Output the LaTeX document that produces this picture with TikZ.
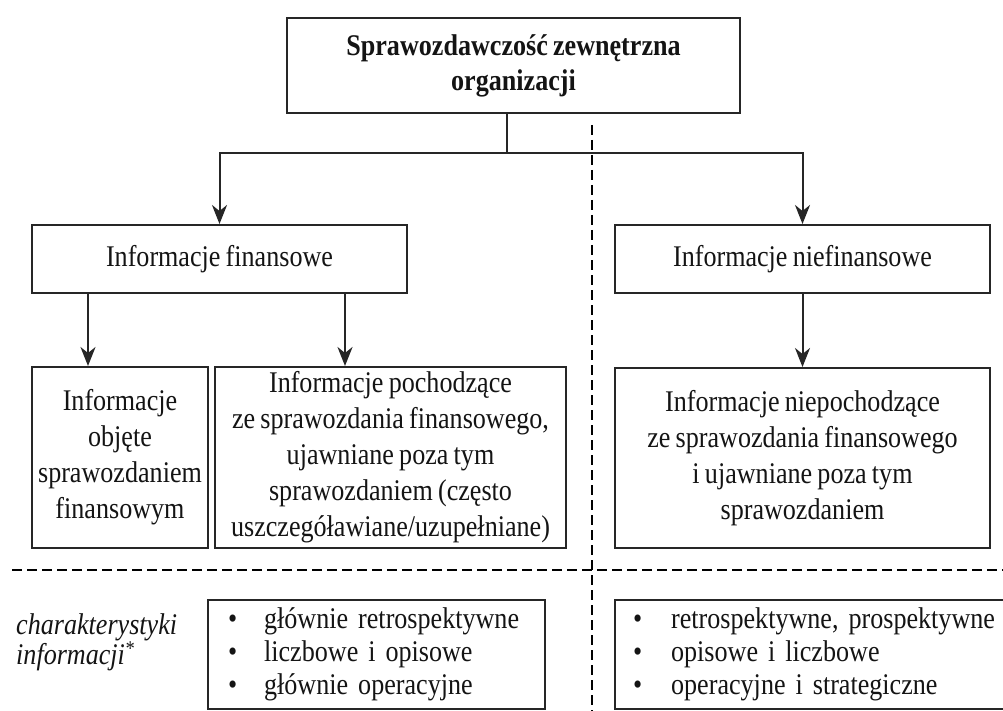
\documentclass[tikz,border=0pt]{standalone}
\usepackage{fontspec}
\setmainfont[FakeStretch=0.87,WordSpace=0.8]{Liberation Serif}
\usetikzlibrary{arrows.meta}
\definecolor{ln}{HTML}{262626}
\definecolor{tx}{HTML}{141414}
\tikzset{
  box/.style={draw=ln, line width=2pt, inner sep=0pt, align=center, text=tx,
    font=\fontsize{30}{36}\selectfont},
  listbox/.style={draw=ln, line width=2pt, inner ysep=0pt, align=left, text=tx,
    font=\fontsize{30}{33}\selectfont},
  arr/.style={draw=ln, line width=2pt, -{Stealth[length=19pt,width=15pt,inset=6pt]}},
  conn/.style={draw=ln, line width=2pt},
  divider/.style={draw=black, line width=2.6pt, dash pattern=on 10pt off 5pt},
}
\begin{document}
\begin{tikzpicture}[x=1pt,y=-1pt]
\useasboundingbox (0,0) rectangle (1003,711);
\clip (0,0) rectangle (1003,711);
\fill[white] (0,0) rectangle (1003,711);

% top
\node[box, minimum width=453pt, minimum height=95pt, line width=2.4pt,
  font=\fontsize{30}{35}\selectfont\bfseries] (top) at (513.5,65.5)
  {Sprawozdawczość zewnętrzna\\organizacji};

% second level
\node[box, minimum width=375pt, minimum height=68pt] (fin) at (219.5,259)
  {Informacje finansowe};
\node[box, minimum width=375pt, minimum height=68pt] (nfin) at (802.5,259)
  {Informacje niefinansowe};

% third level
\node[box, minimum width=176pt, minimum height=181pt] (obj) at (120,457.5)
  {Informacje\\objęte\\sprawozdaniem\\finansowym};
\node[box, minimum width=351pt, minimum height=181pt] (poch) at (390.5,457.5)
  {Informacje pochodzące\\ze sprawozdania finansowego,\\ujawniane poza tym\\sprawozdaniem (często\\uszczegóławiane/uzupełniane)};
\node[box, minimum width=375pt, minimum height=180pt] (npoch) at (802.5,458)
  {Informacje niepochodzące\\ze sprawozdania finansowego\\i ujawniane poza tym\\sprawozdaniem};

% connectors
\coordinate (j) at (507,153);
\draw[conn] ([xshift=-6.5pt]top.south) -- (j);
\draw[arr] (j) -| (fin.north);
\draw[arr] (j) -| (nfin.north);
\draw[arr] ([xshift=-131.5pt]fin.south) -- ([xshift=-32pt]obj.north);
\draw[arr] ([xshift=125.5pt]fin.south) -- ([xshift=-45.5pt]poch.north);
\draw[arr] (nfin.south) -- (npoch.north);

% dividers
\draw[divider] (592,125) -- (592,711);
\draw[divider] (12,570) -- (1003,570);

% characteristics
\node[anchor=west, align=left, text=tx, inner sep=0pt,
  font=\fontsize{30}{30}\selectfont\itshape] (lab) at (16,642)
  {charakterystyki\\informacji\textsuperscript{*}};

\node[listbox, minimum width=337pt, minimum height=109pt, inner xsep=20pt,
  text width=297pt] (cl) at (376.5,654.5)
  {\begin{tabular}{@{}l@{\hspace{27pt}}l@{}}
   • & głównie retrospektywne\\
   • & liczbowe i opisowe\\
   • & głównie operacyjne
   \end{tabular}};
\node[listbox, minimum width=395pt, minimum height=109pt, inner xsep=18pt,
  text width=359pt] (cr) at (812.5,654.5)
  {\begin{tabular}{@{}l@{\hspace{29pt}}l@{}}
   • & retrospektywne, prospektywne\\
   • & opisowe i liczbowe\\
   • & operacyjne i strategiczne
   \end{tabular}};
\end{tikzpicture}
\end{document}
